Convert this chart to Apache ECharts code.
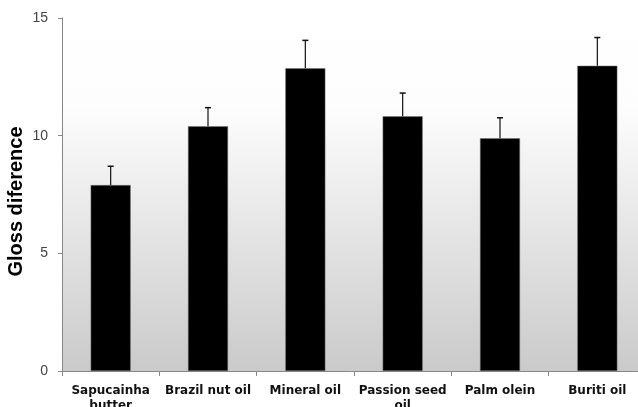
<!DOCTYPE html>
<html>
<head>
<meta charset="utf-8">
<script src="https://cdn.jsdelivr.net/npm/echarts@6/dist/echarts.min.js"></script>
<style>
  html, body { margin: 0; padding: 0; background: #fff; }
  #chart { width: 638px; height: 407px; }
</style>
</head>
<body>
<div id="chart"></div>
<script>
const categories = ['Sapucainha\nbutter', 'Brazil nut oil', 'Mineral oil', 'Passion seed\noil', 'Palm olein', 'Buriti oil'];
const glossValues = [7.9, 10.4, 12.86, 10.82, 9.89, 12.97];
const errorTops = [8.7, 11.19, 14.05, 11.81, 10.76, 14.17];
const yTicks = [0, 5, 10, 15];

const chart = echarts.init(document.getElementById('chart'), null, { renderer: 'canvas' });

// error bars: [category index, bar top, error top]
const errorData = glossValues.map((v, i) => [i, v, errorTops[i]]);

const option = {
    animation: false,
    grid: {
        left: 62,
        right: -8,
        top: 18,
        bottom: 36,
        outerBoundsMode: 'none',
        containLabel: false,
        show: true,
        borderWidth: 0,
        backgroundColor: {
            type: 'linear', x: 0, y: 0, x2: 0, y2: 1,
            colorStops: [
                { offset: 0, color: '#ffffff' },
                { offset: 0.25, color: '#fdfdfd' },
                { offset: 0.5, color: '#ececec' },
                { offset: 1, color: '#cacaca' }
            ]
        }
    },
    xAxis: {
        type: 'category',
        data: categories,
        axisLine: { lineStyle: { color: '#888', width: 1 } },
        axisTick: { show: true, length: 5, lineStyle: { color: '#888' } },
        axisLabel: {
            interval: 0,
            color: '#111',
            fontFamily: 'DejaVu Sans',
            fontWeight: 'bold',
            fontSize: 12,
            lineHeight: 15,
            margin: 12
        }
    },
    yAxis: {
        type: 'value',
        min: 0,
        max: 15,
        interval: 5,
        name: 'Gloss diference',
        nameLocation: 'middle',
        nameMoveOverlap: false,
        nameGap: 36,
        nameTextStyle: {
            fontFamily: 'Liberation Sans',
            fontWeight: 'bold',
            fontSize: 20,
            color: '#000',
            padding: [0, 14, 0, 0]
        },
        axisLine: { show: true, lineStyle: { color: '#888', width: 1 } },
        axisTick: { show: true, length: 4, lineStyle: { color: '#888' } },
        axisLabel: {
            color: '#444',
            fontFamily: 'Liberation Sans',
            fontSize: 14,
            margin: 14,
            formatter: v => yTicks.includes(v) ? String(v) : ''
        },
        splitLine: { show: false }
    },
    series: [
        {
            type: 'bar',
            data: glossValues,
            barWidth: 40,
            itemStyle: { color: '#000', borderColor: '#777', borderWidth: 0.5 },
            z: 2
        },
        {
            type: 'custom',
            data: errorData,
            z: 3,
            renderItem: function (params, api) {
                const x = api.value(0);
                const base = api.coord([x, api.value(1)]);
                const top = api.coord([x, api.value(2)]);
                const cap = 3;
                return {
                    type: 'group',
                    children: [
                        {
                            type: 'line',
                            shape: { x1: base[0], y1: base[1], x2: top[0], y2: top[1] },
                            style: { stroke: '#111', lineWidth: 1.2 }
                        },
                        {
                            type: 'line',
                            shape: { x1: top[0] - cap, y1: top[1], x2: top[0] + cap, y2: top[1] },
                            style: { stroke: '#111', lineWidth: 1.5 }
                        }
                    ]
                };
            }
        }
    ]
};

chart.setOption(option);
</script>
</body>
</html>
